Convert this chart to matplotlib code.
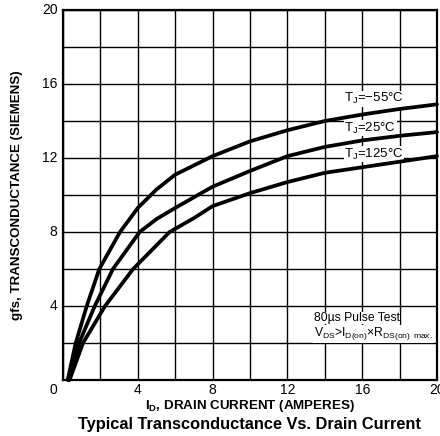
import matplotlib
matplotlib.use("Agg")
import matplotlib.pyplot as plt
import numpy as np

plt.rcParams['font.family'] = ['Liberation Sans', 'DejaVu Sans']
plt.rcParams['mathtext.fontset'] = 'custom'
plt.rcParams['mathtext.rm'] = 'Liberation Sans'

# Drain current (A) and transconductance (S)
I_m55 = [0.25, 0.68, 1.27, 1.94, 3.05, 4.0, 5.0, 6.0, 8.0, 10.0, 12.0, 14.0, 16.0, 18.0, 20.0]
g_m55 = [0, 2, 4, 6, 8, 9.3, 10.3, 11.1, 12.1, 12.9, 13.5, 14.0, 14.35, 14.65, 14.9]

I_25 = [0.3, 0.86, 1.7, 2.67, 4.1, 5.0, 6.0, 8.0, 10.0, 12.0, 14.0, 16.0, 18.0, 20.0]
g_25 = [0, 2, 4, 6, 8, 8.7, 9.3, 10.45, 11.3, 12.1, 12.6, 12.95, 13.2, 13.4]

I_125 = [0.35, 1.07, 2.25, 3.75, 5.7, 7.0, 8.0, 10.0, 12.0, 14.0, 16.0, 18.0, 20.0]
g_125 = [0, 2, 4, 6, 8, 8.75, 9.4, 10.1, 10.7, 11.2, 11.5, 11.8, 12.1]

curve_labels = [r"T$_\mathregular{J}$=−55°C", r"T$_\mathregular{J}$=25°C", r"T$_\mathregular{J}$=125°C"]
x_tick_labels = ["4", "8", "12", "16", "20"]
y_tick_labels = ["4", "8", "12", "16", "20"]

fig = plt.figure(figsize=(4.4, 4.36), dpi=100)
ax = fig.add_axes([63/440, 1-380/436, 374/440, 370/436])

ax.set_xlim(0, 20)
ax.set_ylim(0, 20)

# grid
ax.set_xticks(np.arange(0, 21, 2))
ax.set_yticks(np.arange(0, 21, 2))
ax.set_xticklabels([])
ax.set_yticklabels([])
ax.tick_params(length=0)
ax.grid(True, color='black', linewidth=1.0)
ax.set_axisbelow(True)

for s in ax.spines.values():
    s.set_linewidth(1.6)

# tick labels
for v, lab in zip([4, 8, 12, 16, 20], x_tick_labels):
    ax.text(v, -0.55, lab, ha='center', va='center', fontsize=10, clip_on=False)
for v, lab in zip([4, 8, 12, 16, 20], y_tick_labels):
    ax.text(-0.3, v, lab, ha='right', va='center', fontsize=10)
ax.text(-0.3, -0.55, "0", ha='right', va='center', fontsize=10)

for I, g in [(I_m55, g_m55), (I_25, g_25), (I_125, g_125)]:
    ax.plot(I, g, color='black', linewidth=2.7, solid_capstyle='round', solid_joinstyle='round',
            clip_on=False, zorder=3)

bb = dict(facecolor='white', edgecolor='none', pad=0.3)
for lab, yy in zip(curve_labels, [15.2, 13.6, 12.2]):
    ax.text(15.05, yy, lab, ha='left', va='center', fontsize=9.5, bbox=bb, zorder=2)

ax.text(13.4, 3.35, "80µs Pulse Test", ha='left', va='center', fontsize=8.7, bbox=bb, zorder=2)
ax.text(13.4, 2.5, r"V$_\mathregular{DS}$>I$_\mathregular{D(on)}$×R$_\mathregular{DS(on)}$ $_\mathregular{max.}$",
        ha='left', va='center', fontsize=8.7, bbox=bb, zorder=2)

fig.text(250/440, 1-406/436, r"I$_\mathregular{D}$, DRAIN CURRENT (AMPERES)", ha='center', va='center',
         fontsize=9.6, fontweight='bold')
fig.text(249/440, 1-424/436, "Typical Transconductance Vs. Drain Current", ha='center', va='center',
         fontsize=11.8, fontweight='bold')
fig.text(17/440, 1-195/436, "gfs, TRANSCONDUCTANCE (SIEMENS)", ha='center', va='center',
         rotation=90, fontsize=9.6, fontweight='bold')

fig.savefig("out.png", dpi=100)
